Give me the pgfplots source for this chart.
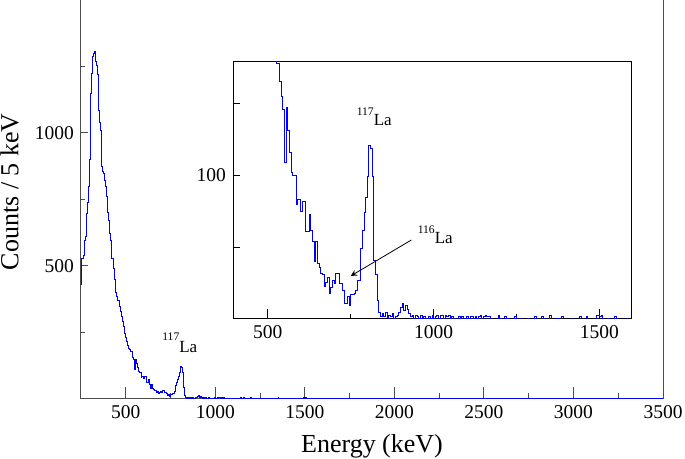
\documentclass[border=0pt]{standalone}
\usepackage{fontspec}
\setmainfont{Liberation Serif}
\usepackage{pgfplots}
\usepackage{pgfplotstable}
\pgfplotsset{compat=1.18}
\pgfplotstableread{
E C
250 430
255 528
260 528
265 540
270 597
275 610
280 697
285 740
290 797
295 900
300 1035
305 1150
310 1223
315 1286
320 1300
325 1305
330 1270
335 1255
340 1220
345 1198
350 1085
355 1040
360 1010
365 872
370 854
375 847
380 820
385 797
390 760
395 734
400 700
405 672
410 620
415 597
420 528
425 528
430 490
435 450
440 421
445 400
450 384
455 371
460 371
465 346
470 330
475 309
480 290
485 271
490 255
495 246
500 230
505 214
510 200
515 190
520 185
525 178
530 178
535 165
540 155
545 146
550 109
555 147
560 131
565 116
570 102
575 100
580 100
585 80
590 83
595 83
600 75
605 82
610 82
615 61
620 61
625 73
630 62
635 54
640 40
645 54
650 39
655 36
660 32
665 31
670 23
675 26
680 29
685 18
690 22
695 27
700 25
705 32
710 32
715 25
720 25
725 20
730 11
735 11
740 16
745 10
750 17
755 17
760 18
765 20
770 27
775 27
780 49
785 62
790 74
795 85
800 99
805 121
810 119
815 99
820 41
825 31
830 13
835 5
840 2
845 4
850 2
855 5
860 1
865 3
870 2
875 4
880 1
885 2
890 3
895 5
900 8
905 11
910 6
915 10
920 7
925 4
930 2
935 3
940 1
945 3
950 2
955 1
960 3
965 1
970 2
975 1
980 0
985 2
990 1
995 3
1000 1
1005 2
1010 3
1015 1
1020 3
1025 3
1030 1
1035 3
1040 2
1045 3
1050 1
1055 2
1060 1
1065 0
1075 2
1080 0
1085 2
1090 1
1095 0
1100 2
1105 1
1110 2
1115 2
1120 1
1125 2
1130 0
1135 2
1140 3
1145 1
1150 2
1155 3
1160 2
1165 2
1170 1
1175 0
1195 3
1200 1
1205 0
1215 2
1220 1
1225 0
1245 2
1250 0
1260 1
1265 0
1285 1
1290 0
1305 2
1310 0
1325 2
1330 1
1335 0
1350 3
1355 0
1370 1
1375 0
1385 2
1390 0
1415 1
1420 0
1440 2
1445 0
1460 2
1465 0
1490 3
1495 3
1500 2
1505 3
1510 0
1525 1
1530 0
1545 2
1550 0
1580 1
1585 0
1650 1
1655 0
1785 1
1795 0
1930 1
1935 0
2055 2
2060 0
2325 1
2330 0
2410 1
2415 0
2485 1
2490 0
2580 1
2585 0
2620 1
2625 0
2660 1
2665 0
2700 1
2705 0
2765 1
2770 0
2800 1
2805 0
2830 1
2835 0
2860 1
2865 0
2900 1
2905 0
2940 1
2945 0
2980 1
2985 0
3005 1
3015 2
3020 1
3030 0
3045 1
3055 0
3070 2
3075 1
3090 0
3110 1
3125 0
3140 1
3150 2
3155 0
3170 1
3185 0
3200 1
3210 0
3230 1
3240 0
3260 1
3280 0
3300 1
3315 2
3320 1
3330 0
3350 1
3360 0
3380 1
3395 0
3410 1
3425 2
3430 1
3445 0
3460 1
3470 0
3480 2
3490 1
3500 0
}\spec

\begin{document}
\begin{tikzpicture}
\useasboundingbox (0,0) rectangle (342.5pt,229.5pt);
\begin{axis}[
  at={(40.5pt,30.15pt)}, anchor=south west,
  scale only axis, width=291pt, height=199.35pt,
  xmin=250, xmax=3500, ymin=0, ymax=1500,
  xtick={500,1000,...,3500}, minor xtick={750,1250,...,3250},
  ytick={500,1000}, minor ytick={250,750,1250},
  tick pos=left, tick align=inside,
  every major x tick/.append style={/pgfplots/major tick length=6pt},
  every minor x tick/.append style={/pgfplots/minor tick length=3pt},
  every major y tick/.append style={/pgfplots/major tick length=3.5pt},
  every minor y tick/.append style={/pgfplots/minor tick length=2pt},
  axis line style={black!70, line width=0.5pt},
  tick style={black!70, line width=0.5pt},
  scaled ticks=false,
  /pgf/number format/1000 sep={},
  /pgf/number format/assume math mode=true,
  ticklabel style={font=\fontsize{9.75}{10}\selectfont},
  xlabel={Energy (keV)}, ylabel={Counts / 5 keV},
  label style={font=\fontsize{13}{14}\selectfont},
  xlabel style={at={(axis description cs:0.5,-0.1355)}, anchor=base},
  ylabel style={at={(axis description cs:-0.1077,0.519)}, anchor=base},
]
\addplot[const plot mark left, blue, line width=0.45pt] table[x=E,y=C]{\spec};
\node[anchor=base west, inner sep=0pt, font=\fontsize{8.5}{9}\selectfont] at (axis cs:702,175.6) {\raisebox{5.8pt}{\fontsize{5.8}{6}\selectfont 117}La};
\end{axis}
\begin{axis}[
  at={(116.5pt,70.35pt)}, anchor=south west,
  scale only axis, width=199pt, height=128.3pt,
  xmin=395, xmax=1595, ymin=0.8, ymax=179,
  axis background/.style={fill=white},
  xtick={500,1000,1500}, minor xtick={750,1250},
  ytick={50,100,150}, yticklabels={,100,},
  tick pos=left, tick align=inside,
  every major x tick/.append style={/pgfplots/major tick length=4.5pt},
  every minor x tick/.append style={/pgfplots/minor tick length=2pt},
  every major y tick/.append style={/pgfplots/major tick length=3.5pt},
  axis line style={black, line width=0.5pt},
  tick style={black, line width=0.5pt},
  scaled ticks=false,
  /pgf/number format/1000 sep={},
  /pgf/number format/assume math mode=true,
  ticklabel style={font=\fontsize{9.75}{10}\selectfont},
]
\addplot[const plot mark left, blue, line width=0.5pt] table[x=E,y=C]{\spec};
\node[anchor=base west, inner sep=0pt, font=\fontsize{8.5}{9}\selectfont] at (axis cs:767,135) {\raisebox{5pt}{\fontsize{5.8}{6}\selectfont 117}La};
\node[anchor=base west, inner sep=0pt, font=\fontsize{8.5}{9}\selectfont] at (axis cs:951,52.4) {\raisebox{5.3pt}{\fontsize{5.8}{6}\selectfont 116}La};
\draw[-stealth, line width=0.4pt] (axis cs:933,55.2) -- (axis cs:750,30.2);
\end{axis}
\end{tikzpicture}
\end{document}
